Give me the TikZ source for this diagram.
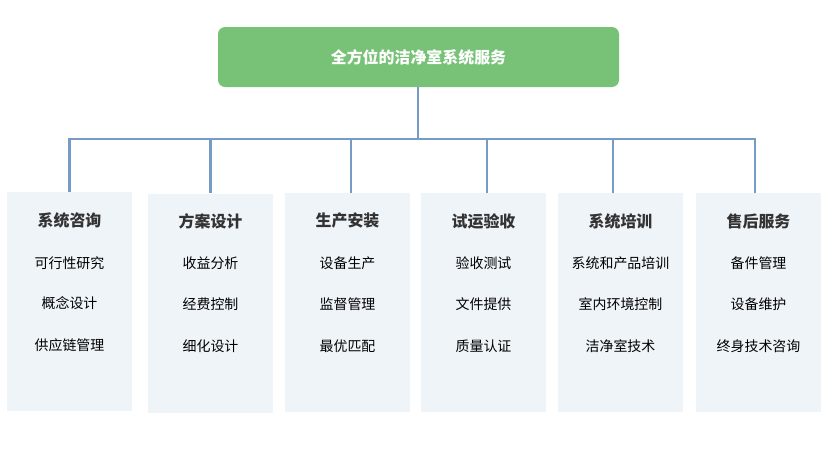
\documentclass[tikz,border=0pt]{standalone}
\usepackage{fontspec}
\setmainfont{Noto Sans CJK SC}
\usetikzlibrary{positioning,calc}

\definecolor{topgreen}{HTML}{77C277}
\definecolor{colfill}{HTML}{EFF4F9}
\definecolor{linkblue}{HTML}{769CC6}
\definecolor{headgray}{HTML}{333333}

\begin{document}
\begin{tikzpicture}[
    x=0.03cm, y=-0.03cm,
    title/.style={draw=none, fill=topgreen, rounded corners=6pt, minimum width=401*0.03cm, minimum height=60*0.03cm, text=white, font=\fontsize{13.6}{16}\selectfont\bfseries},
    column/.style={fill=colfill, minimum width=125*0.03cm, minimum height=219*0.03cm, inner sep=0pt},
    head/.style={text=headgray, font=\fontsize{13.6}{16}\selectfont\bfseries},
    item/.style={text=black, font=\fontsize{11.9}{14}\selectfont},
    link/.style={draw=linkblue, line width=1.8pt}
]

\useasboundingbox (0,0) rectangle (835,449);

\node[title] (top) at (418.5, 57) {全方位的洁净室系统服务};

% columns
\node[column] (consult) at (69.5, 301.5) {};
\node[column] (design) at (210.5, 303) {};
\node[column] (install) at (347.5, 302.5) {};
\node[column] (trial) at (483.5, 302.5) {};
\node[column] (train) at (620.5, 302.5) {};
\node[column] (service) at (758.5, 302.5) {};

\node[head] (consult-h) at (69.5, 220) {系统咨询};
\node[item] (consult-1) at (69.5, 263) {可行性研究};
\node[item] (consult-2) at (69.5, 303) {概念设计};
\node[item] (consult-3) at (69.5, 345) {供应链管理};

\node[head] (design-h) at (210.5, 221) {方案设计};
\node[item] (design-1) at (210.5, 263) {收益分析};
\node[item] (design-2) at (210.5, 304) {经费控制};
\node[item] (design-3) at (210.5, 346) {细化设计};

\node[head] (install-h) at (347.5, 221) {生产安装};
\node[item] (install-1) at (347.5, 263) {设备生产};
\node[item] (install-2) at (347.5, 304) {监督管理};
\node[item] (install-3) at (347.5, 346) {最优匹配};

\node[head] (trial-h) at (483.5, 221) {试运验收};
\node[item] (trial-1) at (483.5, 263) {验收测试};
\node[item] (trial-2) at (483.5, 304) {文件提供};
\node[item] (trial-3) at (483.5, 346) {质量认证};

\node[head] (train-h) at (620.5, 221) {系统培训};
\node[item] (train-1) at (620.5, 263) {系统和产品培训};
\node[item] (train-2) at (620.5, 304) {室内环境控制};
\node[item] (train-3) at (620.5, 346) {洁净室技术};

\node[head] (service-h) at (758.5, 221) {售后服务};
\node[item] (service-1) at (758.5, 263) {备件管理};
\node[item] (service-2) at (758.5, 304) {设备维护};
\node[item] (service-3) at (758.5, 346) {终身技术咨询};

% tree lines
\coordinate (bus) at (418, 139);
\coordinate (install-in) at ([xshift=3.5*0.03cm]install.north);
\coordinate (trial-in) at ([xshift=3.5*0.03cm]trial.north);
\coordinate (train-in) at ([xshift=-7.5*0.03cm]train.north);
\coordinate (service-in) at ([xshift=-3.5*0.03cm]service.north);
\draw[link] (top.south -| bus) -- (bus);
\draw[link] (consult.north) |- (bus) -| (service-in);
\draw[link] (bus -| design.north) -- (design.north);
\draw[link] (bus -| install-in) -- (install-in);
\draw[link] (bus -| trial-in) -- (trial-in);
\draw[link] (bus -| train-in) -- (train-in);

\end{tikzpicture}
\end{document}
